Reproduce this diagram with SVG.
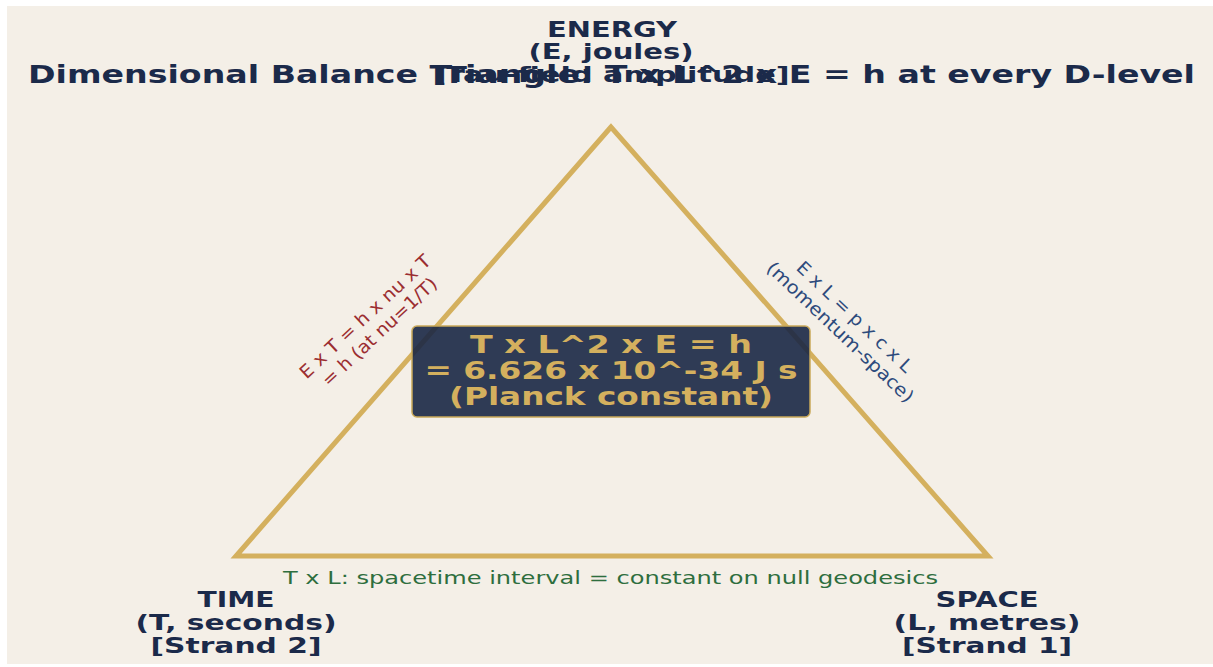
<svg xmlns="http://www.w3.org/2000/svg" width="1213" height="667" viewBox="0 0 1213 667">
<style>
.navy{fill:#1b2a4a;font-family:"DejaVu Sans",sans-serif;font-weight:bold;text-anchor:middle}
.gold{fill:#d4b05e;font-family:"DejaVu Sans",sans-serif;font-weight:bold;text-anchor:middle;font-size:24px}
.side{font-family:"DejaVu Sans",sans-serif;text-anchor:middle;font-size:18px}
</style>
<rect x="0" y="0" width="1213" height="667" fill="#ffffff"/>
<rect x="7" y="6" width="1206" height="658" fill="#f4efe7"/>
<g id="connectors">
<polygon points="611,127 236,556 988,556" fill="none" stroke="#d4b05e" stroke-width="5" stroke-linejoin="miter"/>
</g>
<text class="navy" x="611.5" y="83" font-size="25" textLength="1167" lengthAdjust="spacingAndGlyphs">Dimensional Balance Triangle: T x L^2 x E = h at every D-level</text>
<g id="energy">
<text class="navy" x="612" y="37" font-size="21" textLength="130" lengthAdjust="spacingAndGlyphs">ENERGY</text>
<text class="navy" x="611" y="59" font-size="21" textLength="165" lengthAdjust="spacingAndGlyphs">(E, joules)</text>
<text class="navy" x="611" y="82" font-size="21" textLength="357" lengthAdjust="spacingAndGlyphs">[Tau-field amplitude]</text>
</g>
<g id="time">
<text class="navy" x="236" y="607" font-size="21" textLength="77" lengthAdjust="spacingAndGlyphs">TIME</text>
<text class="navy" x="236" y="630" font-size="21" textLength="201" lengthAdjust="spacingAndGlyphs">(T, seconds)</text>
<text class="navy" x="236" y="653" font-size="21" textLength="171" lengthAdjust="spacingAndGlyphs">[Strand 2]</text>
</g>
<g id="space">
<text class="navy" x="987" y="607" font-size="21" textLength="103" lengthAdjust="spacingAndGlyphs">SPACE</text>
<text class="navy" x="987" y="630" font-size="21" textLength="187" lengthAdjust="spacingAndGlyphs">(L, metres)</text>
<text class="navy" x="987" y="653" font-size="21" textLength="170" lengthAdjust="spacingAndGlyphs">[Strand 1]</text>
</g>
<g id="center">
<rect x="412" y="326" width="398" height="91" rx="5" fill="#1a2745" fill-opacity="0.9" stroke="#c9a95a" stroke-width="1.5"/>
<text class="gold" x="611" y="353" textLength="282" lengthAdjust="spacingAndGlyphs">T x L^2 x E = h</text>
<text class="gold" x="611" y="379" textLength="373" lengthAdjust="spacingAndGlyphs">= 6.626 x 10^-34 J s</text>
<text class="gold" x="611" y="405" textLength="324" lengthAdjust="spacingAndGlyphs">(Planck constant)</text>
</g>
<g id="label-et" transform="translate(372,324) rotate(-43)">
<text class="side" x="0" y="-4" fill="#9b2d30" textLength="172" lengthAdjust="spacingAndGlyphs">E x T = h x nu x T</text>
<text class="side" x="0" y="17" fill="#9b2d30" textLength="150" lengthAdjust="spacingAndGlyphs">= h (at nu=1/T)</text>
</g>
<g id="label-el" transform="translate(847,325) rotate(43.5)">
<text class="side" x="0" y="-5" fill="#2d4a7c" textLength="152" lengthAdjust="spacingAndGlyphs">E x L = p x c x L</text>
<text class="side" x="0" y="16" fill="#2d4a7c" textLength="195" lengthAdjust="spacingAndGlyphs">(momentum-space)</text>
</g>
<g id="label-tl">
<text class="side" x="610.5" y="584" fill="#2e6e3e" font-size="18" textLength="655" lengthAdjust="spacingAndGlyphs">T x L: spacetime interval = constant on null geodesics</text>
</g>
</svg>
